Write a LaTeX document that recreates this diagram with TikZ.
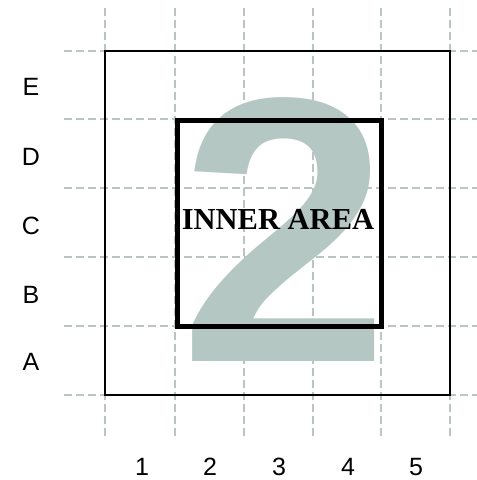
\documentclass[tikz,border=0pt]{standalone}
\usepackage{fontspec}
\setmainfont{Liberation Sans}
\newfontfamily\serifbold{Liberation Serif}
\definecolor{gridcol}{RGB}{186,196,193}
\definecolor{bigtwo}{RGB}{181,199,195}
\tikzset{
  gridline/.style={draw=gridcol, line width=2.5pt, dash pattern=on 8pt off 4pt},
  outerbox/.style={draw=black, line width=1.2pt},
  innerbox/.style={draw=black, line width=5pt},
  axislabel/.style={font=\fontsize{25}{25}\selectfont, inner sep=0pt},
}
\begin{document}
\begin{tikzpicture}[x=1pt,y=-1pt]
\useasboundingbox (0,0) rectangle (477,480);
% grid
\foreach \x in {105,175,244,313,381,450} {
  \coordinate (vt\x) at (\x,8);
  \coordinate (vb\x) at (\x,437);
  \draw[gridline] (vt\x) -- (vb\x);
}
\foreach \y in {51,119,188,257,326,395} {
  \coordinate (hl\y) at (64,\y);
  \coordinate (hr\y) at (477,\y);
  \draw[gridline] (hl\y) -- (hr\y);
}
% big 2 over grid
\node[anchor=base west, inner sep=0pt, text=bigtwo, font=\fontsize{378}{378}\selectfont\bfseries] (two) at (179,361) {2};
% outer box
\coordinate (o1) at (105,51);
\coordinate (o2) at (450,395);
\draw[outerbox] (o1) rectangle (o2);
% inner box
\coordinate (i1) at (177,120);
\coordinate (i2) at (381,326);
\draw[innerbox] (i1) rectangle (i2);
\node[font=\serifbold\bfseries\fontsize{30.5}{30.5}\selectfont, inner sep=0pt] (inner) at (278,219) {INNER AREA};
% labels
\node[axislabel] (lE) at (31,87) {E};
\node[axislabel] (lD) at (31,157) {D};
\node[axislabel] (lC) at (31,226) {C};
\node[axislabel] (lB) at (31,295) {B};
\node[axislabel] (lA) at (31,362) {A};
\node[axislabel] (n1) at (142,467) {1};
\node[axislabel] (n2) at (210,467) {2};
\node[axislabel] (n3) at (279,467) {3};
\node[axislabel] (n4) at (348,467) {4};
\node[axislabel] (n5) at (416,467) {5};
\end{tikzpicture}
\end{document}
